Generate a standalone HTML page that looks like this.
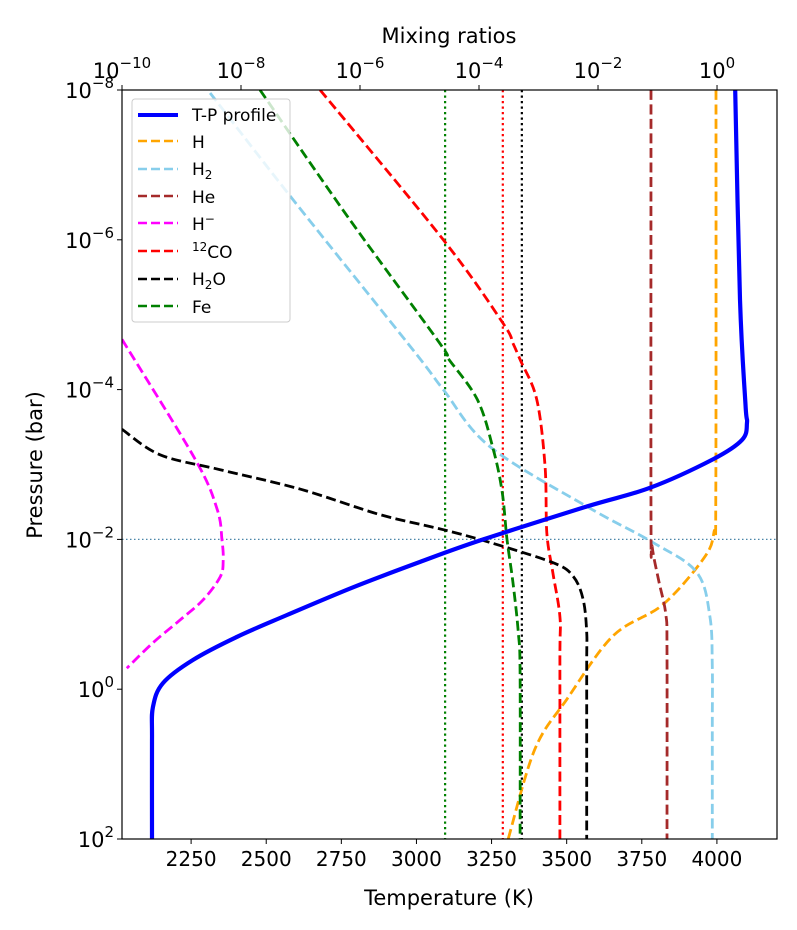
<!DOCTYPE html>
<html><head><meta charset="utf-8"><style>
html,body{margin:0;padding:0;background:#fff}
svg{display:block}
text{font-family:"DejaVu Sans","Liberation Sans",sans-serif}
</style></head><body>
<svg id="chart" width="797" height="930" viewBox="0 0 797 930"></svg>
<script>
// ---- data ----
const pTicks = [-8, -6, -4, -2, 0, 2];
const xTopTicks = [-10, -8, -6, -4, -2, 0];
const tTicks = [2250, 2500, 2750, 3000, 3250, 3500, 3750, 4000];
// T-P profile: log10 P, temperature
const tpLogP = [-8, -5.2, -3.8, -3.56, -3.33, -3.07, -2.69, -2.44, -2.0, -1.70, -1.36, -0.99, -0.70, -0.39, -0.08, 0.24, 0.68, 2];
const tpT = [4061, 4077, 4095, 4100, 4084, 3987, 3778, 3568, 3222, 3012, 2789, 2569, 2403, 2256, 2156, 2123, 2120, 2120];
// mixing ratios (log10) vs log10 P
const hLogP = [-8, -2.6, -2.1, -1.75, -1.13, -0.71, 0.13, 0.8, 2];
const hX = [-0.017, -0.02, -0.05, -0.22, -0.91, -1.75, -2.52, -3.06, -3.51];
const h2LogP = [-7.96, -6.57, -4.53, -4.0, -3.24, -2.44, -1.96, -1.56, -0.97, -0.3, 0.5, 2];
const h2X = [-8.52, -7.16, -5.11, -4.6, -3.82, -2.19, -1.08, -0.34, -0.12, -0.08, -0.08, -0.08];
const heLogP = [-8, -2.3, -1.9, -1.45, -1.0, -0.5, 2];
const heX = [-1.11, -1.11, -1.09, -0.98, -0.86, -0.84, -0.84];
const hmLogP = [-4.67, -3.07, -2.4, -1.99, -1.72, -1.5, -1.19, -0.92, -0.62, -0.28];
const hmX = [-10, -8.77, -8.4, -8.32, -8.30, -8.35, -8.64, -9.03, -9.48, -9.92];
const coLogP = [-8, -6.0, -4.89, -4.62, -4.4, -3.87, -2.97, -2.09, -1.56, -0.97, -0.4, 2];
const coX = [-6.67, -4.6, -3.6, -3.43, -3.31, -3.03, -2.89, -2.86, -2.76, -2.64, -2.64, -2.64];
const h2oLogP = [-3.47, -3.13, -2.93, -2.67, -2.33, -2.13, -1.96, -1.69, -1.51, -1.2, -0.76, -0.3, 2];
const h2oX = [-10, -9.36, -8.35, -7.0, -5.66, -4.6, -3.82, -2.76, -2.42, -2.25, -2.19, -2.19, -2.19];
const feLogP = [-8, -6.3, -4.62, -4.44, -3.87, -3.2, -2.63, -2.0, -1.43, -0.76, -0.2, 2];
const feX = [-7.68, -6.2, -4.66, -4.54, -4.03, -3.76, -3.61, -3.53, -3.43, -3.34, -3.31, -3.31];
const vLines = [-4.57, -3.6, -3.28];
const refLogP = -2;

// ---- axes ----
const L=122, R=777, T=90, B=839;
const xT = t => L + (t-2020)/(4200-2020)*(R-L);
const xM = lx => L + (lx+10)/(11.008)*(R-L);
const yP = lp => T + (lp+8)/10*(B-T);
const NS="http://www.w3.org/2000/svg";
const svg=document.getElementById('chart');
function mk(tag, attrs, parent){const e=document.createElementNS(NS,tag);for(const k in attrs)e.setAttribute(k,attrs[k]);(parent||svg).appendChild(e);return e;}

mk('defs',{}).innerHTML='<clipPath id="clip"><rect x="'+L+'" y="'+T+'" width="'+(R-L)+'" height="'+(B-T)+'"/></clipPath>';
const clipG=mk('g',{'clip-path':'url(#clip)'});



function smoothPath(P){
  let d='M'+P[0][0].toFixed(1)+','+P[0][1].toFixed(1);
  for(let i=0;i<P.length-1;i++){
    const p0=P[i-1]||P[i], p1=P[i], p2=P[i+1], p3=P[i+2]||P[i+1];
    const c1=[p1[0]+(p2[0]-p0[0])/6, p1[1]+(p2[1]-p0[1])/6];
    const c2=[p2[0]-(p3[0]-p1[0])/6, p2[1]-(p3[1]-p1[1])/6];
    d+=' C'+c1[0].toFixed(1)+','+c1[1].toFixed(1)+' '+c2[0].toFixed(1)+','+c2[1].toFixed(1)+' '+p2[0].toFixed(1)+','+p2[1].toFixed(1);
  }
  return d;
}
function curve(xs, ys, color, w, dash, name, isT){
  const P=ys.map((lp,i)=>[isT?xT(xs[i]):xM(xs[i]), yP(lp)]);
  const e=mk('path',{d:smoothPath(P),fill:'none',stroke:color,'stroke-width':w,'stroke-dasharray':dash||'none','stroke-linejoin':'round'},clipG);
  
  
}
const hl=mk('line',{x1:L,x2:R,y1:yP(refLogP),y2:yP(refLogP),stroke:'#4a86a8','stroke-width':1.2,'stroke-dasharray':'1.5 2.5'},clipG);


const vc=['#008000','#ff0000','#000000'];
vLines.forEach((v,i)=>{
  const e=mk('line',{x1:xM(v),x2:xM(v),y1:T,y2:B,stroke:vc[i],'stroke-width':2.2,'stroke-dasharray':'2.2 3.3'},clipG);
  
  
});
const dash='10 4.5';
const lw=2.8;
curve(hX,hLogP,'#ffa500',lw,dash,'series-h');
curve(h2X,h2LogP,'#87ceeb',lw,dash,'series-h2');
curve(heX,heLogP,'#a52a2a',lw,dash,'series-he');
curve(hmX,hmLogP,'#ff00ff',lw,dash,'series-h-minus');
curve(coX,coLogP,'#ff0000',lw,dash,'series-12co');
curve(h2oX,h2oLogP,'#000000',lw,dash,'series-h2o');
curve(feX,feLogP,'#008000',lw,dash,'series-fe');
curve(tpT,tpLogP,'#0000ff',4.2,null,'tp-profile',true);

const frame=mk('rect',{x:L,y:T,width:R-L,height:B-T,fill:'none',stroke:'#000','stroke-width':1.2});



function supLabel(x,y,base,exp,anchor,name){
  const t=mk('text',{x:x,y:y,'font-size':21,'text-anchor':anchor,fill:'#000'});
  
  
  const a=mk('tspan',{},t);a.textContent=base;
  const b=mk('tspan',{dy:-10,'font-size':15},t);b.textContent=exp;
  return t;
}
pTicks.forEach(p=>{
  const y=yP(p);
  mk('line',{x1:L-5,x2:L,y1:y,y2:y,stroke:'#000','stroke-width':1});
  supLabel(L-8,y+8,'10',p<0?'\u2212'+(-p):String(p),'end','y-tick-label');
});
xTopTicks.forEach(v=>{
  const x=xM(v);
  mk('line',{x1:x,x2:x,y1:T-5,y2:T,stroke:'#000','stroke-width':1});
  supLabel(x,T-12,'10',v<0?'\u2212'+(-v):String(v),'middle','top-tick-label');
});
tTicks.forEach(v=>{
  const x=xT(v);
  mk('line',{x1:x,x2:x,y1:B,y2:B+5,stroke:'#000','stroke-width':1});
  const t=mk('text',{x:x,y:B+27,'font-size':20,'text-anchor':'middle'});
  t.textContent=v;
  
  
});
</script>
<svg style="position:absolute;left:0;top:0" width="797" height="930">
  <text x="449" y="43" font-size="21" text-anchor="middle">Mixing ratios</text>
  <text x="449" y="905" font-size="21" text-anchor="middle">Temperature (K)</text>
  <text x="42" y="465" font-size="21" text-anchor="middle" transform="rotate(-90 42 465)">Pressure (bar)</text>
  <g font-size="17">
    <rect x="132" y="99" width="158" height="223" rx="3" fill="#fff" fill-opacity="0.8" stroke="#ccc"/>
    <line x1="138" y1="115" x2="178" y2="115" stroke="#0000ff" stroke-width="4"/><text x="192" y="121">T-P profile</text>
    <line x1="138" y1="141" x2="178" y2="141" stroke="#ffa500" stroke-width="2.5" stroke-dasharray="9 4"/><text x="192" y="148">H</text>
    <line x1="138" y1="169" x2="178" y2="169" stroke="#87ceeb" stroke-width="2.5" stroke-dasharray="9 4"/><text x="192" y="175">H<tspan dy="4" font-size="12">2</tspan></text>
    <line x1="138" y1="196" x2="178" y2="196" stroke="#a52a2a" stroke-width="2.5" stroke-dasharray="9 4"/><text x="192" y="203">He</text>
    <line x1="138" y1="223" x2="178" y2="223" stroke="#ff00ff" stroke-width="2.5" stroke-dasharray="9 4"/><text x="192" y="230">H<tspan dy="-7" font-size="12">−</tspan></text>
    <line x1="138" y1="251" x2="178" y2="251" stroke="#ff0000" stroke-width="2.5" stroke-dasharray="9 4"/><text x="192" y="258"><tspan dy="-7" font-size="12">12</tspan><tspan dy="7">CO</tspan></text>
    <line x1="138" y1="279" x2="178" y2="279" stroke="#000" stroke-width="2.5" stroke-dasharray="9 4"/><text x="192" y="285">H<tspan dy="4" font-size="12">2</tspan><tspan dy="-4">O</tspan></text>
    <line x1="138" y1="306" x2="178" y2="306" stroke="#008000" stroke-width="2.5" stroke-dasharray="9 4"/><text x="192" y="313">Fe</text>
  </g>
</svg>
</body></html>
